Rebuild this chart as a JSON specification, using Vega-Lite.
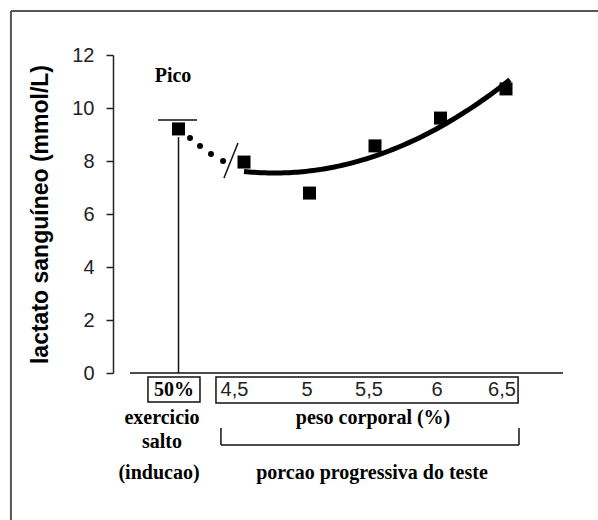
{
  "$schema": "https://vega.github.io/schema/vega-lite/v6.json",
  "width": 450,
  "height": 318,
  "autosize": "none",
  "padding": {"left": 113, "top": 55, "right": 35, "bottom": 147},
  "background": "white",
  "config": {"view": {"stroke": null}},
  "datasets": {
    "pts": [
      {"x": 4.0, "y": 9.21, "g": "pico"},
      {"x": 4.5, "y": 7.96, "g": "teste"},
      {"x": 5.0, "y": 6.79, "g": "teste"},
      {"x": 5.5, "y": 8.57, "g": "teste"},
      {"x": 6.0, "y": 9.62, "g": "teste"},
      {"x": 6.5, "y": 10.72, "g": "teste"}
    ],
    "dots": [
      {"x": 4.088, "y": 8.87},
      {"x": 4.164, "y": 8.57},
      {"x": 4.248, "y": 8.26},
      {"x": 4.340, "y": 8.0}
    ],
    "segs": [
      {"kind": "frame", "x": 2.721, "x2": 2.721, "y": -5.6, "y2": 13.66},
      {"kind": "frame", "x": 2.721, "x2": 7.25, "y": 13.66, "y2": 13.66},
      {"kind": "ink", "x": 3.63, "x2": 6.935, "y": 0, "y2": 0},
      {"kind": "ink", "x": 4.0, "x2": 4.0, "y": 0, "y2": 8.9},
      {"kind": "ink", "x": 3.844, "x2": 4.141, "y": 9.547, "y2": 9.547},
      {"kind": "ink", "x": 4.454, "x2": 4.347, "y": 8.679, "y2": 7.358},
      {"kind": "ink", "x": 4.324, "x2": 6.599, "y": -2.717, "y2": -2.717},
      {"kind": "ink", "x": 4.324, "x2": 4.324, "y": -2.075, "y2": -2.717},
      {"kind": "ink", "x": 6.599, "x2": 6.599, "y": -2.075, "y2": -2.717}
    ],
    "boxes": [
      {"x": 3.767, "x2": 4.164, "y": -0.151, "y2": -1.094},
      {"x": 4.286, "x2": 6.592, "y": -0.151, "y2": -1.132}
    ],
    "serif": [
      {"x": 3.966, "y": -0.642, "label": "50%"},
      {"x": 3.958, "y": 11.208, "label": "Pico"},
      {"x": 3.874, "y": -1.698, "label": "exercicio"},
      {"x": 3.874, "y": -2.604, "label": "salto"},
      {"x": 3.851, "y": -3.774, "label": "(inducao)"},
      {"x": 5.485, "y": -1.698, "label": "peso corporal (%)"},
      {"x": 5.477, "y": -3.774, "label": "porcao progressiva do teste"}
    ],
    "nums": [
      {"x": 4.427, "y": -0.642, "label": "4,5"},
      {"x": 4.981, "y": -0.642, "label": "5"},
      {"x": 5.454, "y": -0.642, "label": "5,5"},
      {"x": 5.973, "y": -0.642, "label": "6"},
      {"x": 6.469, "y": -0.642, "label": "6,5"}
    ]
  },
  "layer": [
    {
      "data": {"name": "segs"},
      "transform": [{"filter": "datum.kind == 'frame'"}],
      "mark": {"type": "rule", "color": "#555555", "strokeWidth": 2},
      "encoding": {
        "x": {"field": "x", "type": "quantitative", "scale": {"domain": [3.5, 6.935], "nice": false, "zero": false}, "axis": null},
        "x2": {"field": "x2"},
        "y": {"field": "y", "type": "quantitative", "scale": {"domain": [0, 12], "nice": false, "zero": false},
          "axis": {
            "values": [0, 2, 4, 6, 8, 10, 12],
            "title": "lactato sanguíneo (mmol/L)",
            "grid": false,
            "labelFont": "Liberation Sans",
            "labelFontSize": 20,
            "labelColor": "#222222",
            "labelPadding": 12,
            "tickSize": 7,
            "tickColor": "#222222",
            "tickWidth": 1.5,
            "domainColor": "#222222",
            "domainWidth": 1.5,
            "titleFont": "Liberation Sans",
            "titleFontWeight": "bold",
            "titleFontSize": 23,
            "titleColor": "#000000",
            "titlePadding": 19
          }
        },
        "y2": {"field": "y2"}
      }
    },
    {
      "data": {"name": "segs"},
      "transform": [{"filter": "datum.kind == 'ink'"}],
      "mark": {"type": "rule", "color": "#111111", "strokeWidth": 1.5},
      "encoding": {
        "x": {"field": "x", "type": "quantitative"},
        "x2": {"field": "x2"},
        "y": {"field": "y", "type": "quantitative"},
        "y2": {"field": "y2"}
      }
    },
    {
      "data": {"name": "boxes"},
      "mark": {"type": "rect", "fill": null, "stroke": "#111111", "strokeWidth": 1.5},
      "encoding": {
        "x": {"field": "x", "type": "quantitative"},
        "x2": {"field": "x2"},
        "y": {"field": "y", "type": "quantitative"},
        "y2": {"field": "y2"}
      }
    },
    {
      "data": {"name": "pts"},
      "transform": [
        {"filter": "datum.g == 'teste'"},
        {"regression": "y", "on": "x", "method": "poly", "order": 2, "extent": [4.5, 6.53]}
      ],
      "mark": {"type": "line", "color": "#000000", "strokeWidth": 5},
      "encoding": {
        "x": {"field": "x", "type": "quantitative"},
        "y": {"field": "y", "type": "quantitative"}
      }
    },
    {
      "data": {"name": "dots"},
      "mark": {"type": "point", "shape": "circle", "filled": true, "color": "#000000", "size": 36, "opacity": 1},
      "encoding": {
        "x": {"field": "x", "type": "quantitative"},
        "y": {"field": "y", "type": "quantitative"}
      }
    },
    {
      "data": {"name": "pts"},
      "mark": {"type": "point", "shape": "square", "filled": true, "color": "#000000", "size": 169, "opacity": 1},
      "encoding": {
        "x": {"field": "x", "type": "quantitative"},
        "y": {"field": "y", "type": "quantitative"}
      }
    },
    {
      "data": {"name": "serif"},
      "mark": {"type": "text", "font": "Liberation Serif", "fontWeight": "bold", "fontSize": 20, "color": "#000000", "baseline": "middle", "align": "center"},
      "encoding": {
        "x": {"field": "x", "type": "quantitative"},
        "y": {"field": "y", "type": "quantitative"},
        "text": {"field": "label"}
      }
    },
    {
      "data": {"name": "nums"},
      "mark": {"type": "text", "font": "Liberation Sans", "fontSize": 20, "color": "#222222", "baseline": "middle", "align": "center"},
      "encoding": {
        "x": {"field": "x", "type": "quantitative"},
        "y": {"field": "y", "type": "quantitative"},
        "text": {"field": "label"}
      }
    }
  ]
}
